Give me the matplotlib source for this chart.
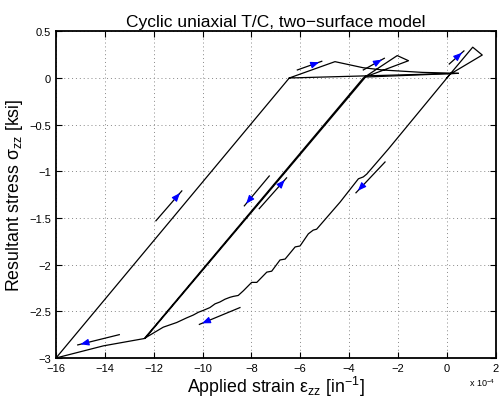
import matplotlib
matplotlib.use("Agg")
import matplotlib.pyplot as plt

plt.rcParams['font.family'] = ['Liberation Sans', 'DejaVu Sans']
plt.rcParams['mathtext.fontset'] = 'custom'
plt.rcParams['mathtext.rm'] = 'Liberation Sans'
plt.rcParams['mathtext.it'] = 'Liberation Sans'

# strain (x 1e-4) and stress (ksi), in load order
path_x = [0.0, 1.06, 1.45, 0.13, -2.39, -3.28, -3.42, -3.62, -4.37, -5.33, -5.47, -5.67,
          -6.01, -6.21, -6.62, -6.83, -7.17, -7.37, -7.78, -7.99, -8.33, -8.54, -8.74,
          -8.88, -9.08, -9.29, -9.49, -9.70, -9.97, -10.17, -10.38, -10.65, -11.06,
          -11.61, -12.38,
          -3.42, -2.03, -1.57, -3.35, -3.36, -12.35, -14.06, -16.0,
          -6.45, -4.58, -3.43, -2.60, -1.0, 0.47, -6.45]
path_y = [0.0, 0.33, 0.246, 0.04, -0.76, -1.03, -1.06, -1.08, -1.33, -1.62, -1.63, -1.67,
          -1.80, -1.81, -1.94, -1.95, -2.07, -2.08, -2.19, -2.19, -2.28, -2.33, -2.34,
          -2.35, -2.37, -2.40, -2.42, -2.46, -2.49, -2.51, -2.54, -2.57, -2.62,
          -2.67, -2.79,
          0.0, 0.24, 0.185, 0.01, 0.0, -2.79, -2.87, -3.0,
          0.0, 0.175, 0.11, 0.085, 0.06, 0.05, 0.0]

# reload branch from the second tension peak back to the crack-closing line
branch_x = [-3.35, 0.47]
branch_y = [0.01, 0.05]

# direction arrows: start -> tip
arrow_start = [(-13.41, -2.75), (-8.47, -2.46), (-11.91, -1.53), (-7.27, -1.05),
               (-7.68, -1.40), (-2.53, -0.90), (-6.12, 0.086), (-3.42, 0.086), (0.10, 0.15)]
arrow_tip = [(-15.11, -2.86), (-10.13, -2.64), (-10.85, -1.21), (-8.29, -1.37),
             (-6.56, -1.07), (-3.72, -1.23), (-5.12, 0.179), (-2.56, 0.211), (0.70, 0.29)]

fig = plt.figure(figsize=(5.01, 4.06), dpi=100)
ax = fig.add_axes([0.1118, 0.1158, 0.8776, 0.8046])

ax.plot(path_x, path_y, color='black', lw=0.9)
ax.plot(branch_x, branch_y, color='black', lw=0.9)

for (x0, y0), (x1, y1) in zip(arrow_start, arrow_tip):
    ax.plot([x0, x1], [y0, y1], color='black', lw=0.9)
    ax.annotate('', xy=(x1, y1), xytext=(x1 - 0.3 * (x1 - x0), y1 - 0.3 * (y1 - y0)),
                arrowprops=dict(arrowstyle='-|>,head_length=0.5,head_width=0.2',
                                fc='blue', ec='blue', lw=0.8))

ax.set_xlim(-16, 2)
ax.set_ylim(-3, 0.5)
ax.set_xticks(range(-16, 3, 2))
ax.set_yticks([-3, -2.5, -2, -1.5, -1, -0.5, 0, 0.5])
ax.set_yticklabels(['\u22123', '\u22122.5', '\u22122', '\u22121.5', '\u22121', '\u22120.5', '0', '0.5'])
ax.grid(True, linestyle=(0, (1, 3)), color='#888888', lw=0.7)
ax.tick_params(direction='in', length=4, width=0.8, labelsize=8, top=True, right=True)
for s in ax.spines.values():
    s.set_linewidth(1.3)

ax.set_title('Cyclic uniaxial T/C, two\u2212surface model', fontsize=12.5, pad=4)
ax.set_xlabel(r'Applied strain $\mathrm{\varepsilon_{zz}}$ [in$^{-1}$]', fontsize=12.8, labelpad=1)
ax.set_ylabel(r'Resultant stress $\mathrm{\sigma_{zz}}$ [ksi]', fontsize=12.8, labelpad=3)
ax.text(1.0, -0.055, r'x 10$^{-4}$', transform=ax.transAxes, ha='right', va='top', fontsize=6.5)

fig.savefig('out.png', dpi=100)
